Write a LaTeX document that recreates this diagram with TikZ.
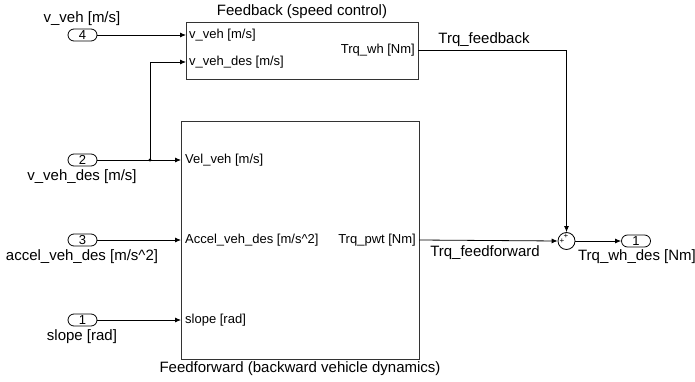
\documentclass[tikz,border=0pt]{standalone}
\usepackage{fontspec}
\setmainfont{Liberation Sans}
\usetikzlibrary{arrows.meta}
\begin{document}
\begin{tikzpicture}[x=1pt,y=-1pt,
  big/.style={font=\fontsize{15}{17}\selectfont, inner sep=0pt},
  small/.style={font=\fontsize{13}{15}\selectfont, inner sep=0pt},
  blk/.style={draw=black!80, line width=0.8pt, inner sep=0pt},
  port/.style={draw, line width=0.8pt, rounded corners=6pt, minimum width=29pt, minimum height=12pt, inner sep=0pt, font=\fontsize{13}{13}\selectfont},
  arr/.style={line width=0.8pt, -{Latex[length=6pt,width=5pt]}},
  pls/.style={font=\fontsize{8}{8}\selectfont, inner sep=0pt}]
\useasboundingbox (0,0) rectangle (695,382);

% blocks
\node[blk, minimum width=232pt, minimum height=57pt] (fb) at (302,50.5) {};
\node[blk, minimum width=238pt, minimum height=238pt] (ff) at (300,240) {};
\node[big] (fbt) at (302,12) {Feedback (speed control)};
\node[big] (fft) at (300,369) {Feedforward (backward vehicle dynamics)};

% block port labels
\node[small, anchor=west] (fbi1) at (189,35) {v\_veh [m/s]};
\node[small, anchor=west] (fbi2) at (189,62) {v\_veh\_des [m/s]};
\node[small, anchor=east] (fbo) at (415,50) {Trq\_wh [Nm]};
\node[small, anchor=west] (ffi1) at (185,160) {Vel\_veh [m/s]};
\node[small, anchor=west] (ffi2) at (185,240) {Accel\_veh\_des [m/s\^{}2]};
\node[small, anchor=west] (ffi3) at (185,320) {slope [rad]};
\node[small, anchor=east] (ffo) at (416,240) {Trq\_pwt [Nm]};

% inports
\node[port] (p4) at (82.5,35) {4};
\node[port] (p2) at (82.5,160) {2};
\node[port] (p3) at (82.5,240) {3};
\node[port] (p1) at (82.5,320) {1};
\node[big] (l4) at (82,19) {v\_veh [m/s]};
\node[big] (l2) at (82,177) {v\_veh\_des [m/s]};
\node[big] (l3) at (82,257) {accel\_veh\_des [m/s\^{}2]};
\node[big] (l1) at (82,337) {slope [rad]};

% sum and outport
\node[draw, circle, line width=0.8pt, minimum size=17pt, inner sep=0pt] (sum) at (566.5,241) {};
\node[pls] (sp1) at ([shift={(-4.5,0)}]sum.center) {+};
\node[pls] (sp2) at ([shift={(-0.5,-4.5)}]sum.center) {+};
\node[port] (po) at (636,241) {1};
\node[big] (lo) at (637,257) {Trq\_wh\_des [Nm]};

% coordinates
\coordinate (fbin1) at (186,35);
\coordinate (fbin2) at (186,62);
\coordinate (ffin1) at (181,160);
\coordinate (ffin2) at (181,240);
\coordinate (ffin3) at (181,320);
\coordinate (fbout) at (418,50);
\coordinate (ffout) at (419,240);
\coordinate (jn) at (150,160);

% connectors
\draw[arr] (p4.east) -- (fbin1);
\draw[arr] (p2.east) -- (ffin1);
\draw[arr] (jn) |- (fbin2);
\fill (jn) circle (1.6pt);
\draw[arr] (p3.east) -- (ffin2);
\draw[arr] (p1.east) -- (ffin3);
\draw[arr] (fbout) -| (sum.north);
\draw[arr] (ffout) -- (sum.west);
\draw[arr] (sum.east) -- (po.west);

\node[big] (tfb) at (484,40) {Trq\_feedback};
\node[big] (tff) at (485,253) {Trq\_feedforward};
\end{tikzpicture}
\end{document}
